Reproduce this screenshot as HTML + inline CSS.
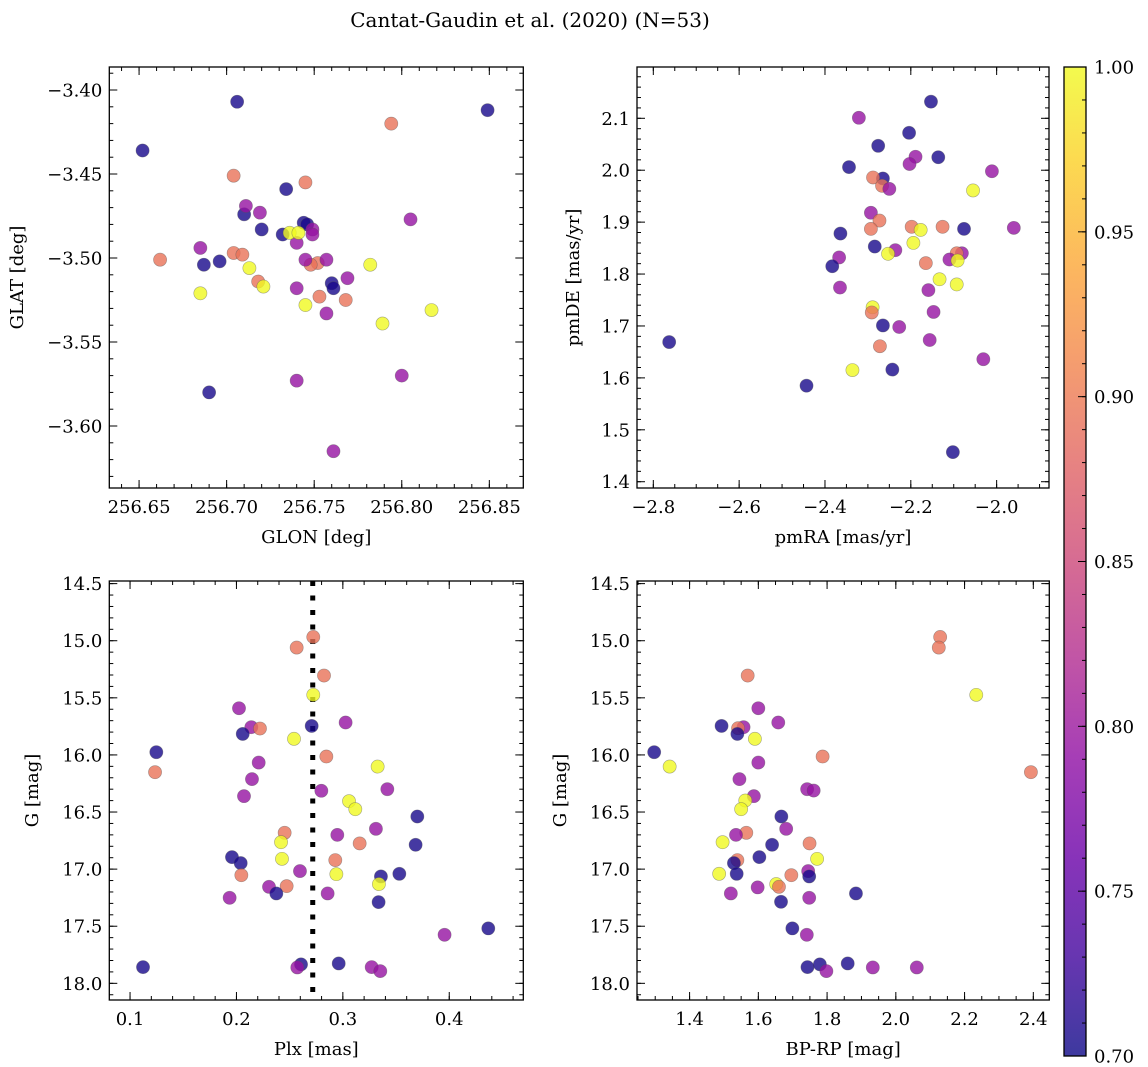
<!DOCTYPE html>
<html>
<head>
<meta charset="utf-8">
<style>
  html,body{margin:0;padding:0;background:#fff;}
  svg{display:block;font-family:"DejaVu Serif","Liberation Serif",serif;}
</style>
</head>
<body>
<svg id="fig" width="1148" height="1067" viewBox="0 0 1148 1067" xmlns="http://www.w3.org/2000/svg">
  <rect width="1148" height="1067" fill="#fff"/>
  <text x="530" y="27" font-size="20" text-anchor="middle">Cantat-Gaudin et al. (2020) (N=53)</text>
</svg>
<script>
// ---- color classes (membership probability) ----
const B = 0.705, P = 0.795, S = 0.893, Y = 1.0;

// ---- Panel 1: GLON vs GLAT ----
const p1Glon = [256.652,256.706,256.849,256.690,256.696,256.687,256.710,256.720,256.734,256.732,256.744,256.746,256.760,256.761,
  256.794,256.704,256.745,256.662,256.704,256.709,256.718,256.752,256.748,256.753,256.768,
  256.711,256.719,256.685,256.740,256.749,256.749,256.745,256.757,256.769,256.740,256.757,256.740,256.805,256.800,256.761,
  256.685,256.713,256.721,256.736,256.741,256.745,256.782,256.789,256.817];
const p1Glat = [-3.436,-3.407,-3.412,-3.580,-3.502,-3.504,-3.474,-3.483,-3.459,-3.486,-3.479,-3.480,-3.515,-3.518,
  -3.420,-3.451,-3.455,-3.501,-3.497,-3.498,-3.514,-3.503,-3.504,-3.523,-3.525,
  -3.469,-3.473,-3.494,-3.491,-3.483,-3.486,-3.501,-3.501,-3.512,-3.518,-3.533,-3.573,-3.477,-3.570,-3.615,
  -3.521,-3.506,-3.517,-3.485,-3.485,-3.528,-3.504,-3.539,-3.531];
const p1Prob = [B,B,B,B,B,B,B,B,B,B,B,B,B,B, S,S,S,S,S,S,S,S,S,S,S, P,P,P,P,P,P,P,P,P,P,P,P,P,P,P, Y,Y,Y,Y,Y,Y,Y,Y,Y];

// ---- Panel 2: pmRA vs pmDE ----
const p2PmRA = [-2.153,-2.321,-2.204,-2.276,-2.189,-2.203,-2.136,-2.344,-2.011,-2.265,-2.288,-2.267,-2.250,-2.055,-2.293,-2.273,-2.293,-2.364,-2.198,-2.177,-2.126,-2.076,-1.960,-2.194,-2.284,-2.236,-2.253,-2.367,-2.081,-2.093,-2.110,-2.091,-2.383,-2.165,-2.133,-2.093,-2.365,-2.159,-2.289,-2.291,-2.147,-2.265,-2.227,-2.156,-2.763,-2.272,-2.031,-2.336,-2.243,-2.443,-2.102];
const p2PmDE = [2.132,2.101,2.072,2.047,2.026,2.012,2.025,2.006,1.998,1.984,1.986,1.970,1.964,1.961,1.918,1.903,1.887,1.878,1.891,1.885,1.891,1.887,1.889,1.860,1.853,1.846,1.839,1.832,1.840,1.840,1.828,1.826,1.815,1.821,1.790,1.780,1.774,1.769,1.736,1.726,1.727,1.701,1.698,1.673,1.669,1.661,1.636,1.615,1.616,1.585,1.457];
const p2Prob = [B,P,B,B,P,P,B,B,P,B,S,S,P,Y,P,S,S,B,S,Y,S,B,P,Y,B,P,Y,P,P,S,P,Y,B,S,Y,Y,P,P,Y,S,P,B,P,P,B,S,P,Y,B,B,B];

// ---- Panel 3: Plx vs G ----
const p3Plx = [0.2722,0.2566,0.2823,0.2722,0.2024,0.3026,0.2707,0.2140,0.2221,0.2059,0.2541,0.1247,0.2845,0.2209,0.3327,0.1235,0.2146,0.2798,0.3418,0.2071,0.3058,0.3117,0.3700,0.3311,0.2453,0.2948,0.2419,0.3158,0.3684,0.2428,0.1958,0.2929,0.2040,0.2597,0.3531,0.2939,0.2046,0.3358,0.3339,0.2306,0.2472,0.2375,0.2857,0.1936,0.3336,0.4367,0.3956,0.1122,0.2607,0.2572,0.2961,0.3271,0.3352];
const p3G = [14.967,15.060,15.305,15.474,15.591,15.716,15.746,15.757,15.769,15.816,15.859,15.976,16.014,16.067,16.102,16.151,16.212,16.314,16.300,16.361,16.405,16.475,16.539,16.647,16.682,16.700,16.764,16.775,16.787,16.910,16.895,16.921,16.947,17.017,17.041,17.044,17.053,17.064,17.131,17.155,17.149,17.213,17.213,17.251,17.289,17.519,17.575,17.858,17.834,17.861,17.826,17.858,17.893];
const p3Prob = [S,S,S,Y,P,P,B,P,S,B,Y,B,S,P,Y,S,P,P,P,P,Y,Y,B,P,S,P,Y,S,B,Y,B,S,B,P,B,Y,S,B,Y,P,S,B,P,P,B,B,P,B,B,P,B,P,P];
const plxMedian = [0.2717];

// ---- Panel 4: BP-RP vs G ----
const p4Color = [2.129,2.125,1.569,2.234,1.600,1.658,1.493,1.557,1.541,1.539,1.590,1.297,1.787,1.600,1.342,2.393,1.545,1.742,1.761,1.587,1.562,1.550,1.667,1.681,1.565,1.535,1.496,1.749,1.640,1.771,1.603,1.539,1.529,1.745,1.537,1.486,1.696,1.748,1.652,1.660,1.598,1.520,1.884,1.748,1.666,1.699,1.741,1.743,1.779,1.798,1.860,1.933,2.061];
const p4G = [14.967,15.060,15.305,15.474,15.591,15.716,15.746,15.757,15.766,15.816,15.859,15.976,16.014,16.067,16.102,16.151,16.212,16.300,16.312,16.361,16.399,16.475,16.539,16.647,16.682,16.700,16.764,16.775,16.787,16.910,16.895,16.921,16.947,17.017,17.041,17.041,17.053,17.064,17.131,17.155,17.160,17.213,17.213,17.251,17.286,17.519,17.575,17.858,17.834,17.893,17.826,17.861,17.861];
const p4Prob = [S,S,S,Y,P,P,B,P,S,B,Y,B,S,P,Y,S,P,P,P,P,Y,Y,B,P,S,P,Y,S,B,Y,B,S,B,P,B,Y,S,B,Y,S,P,P,B,P,B,B,P,B,B,P,B,P,P];

// ---- tick labels ----
const p1XTicks = [256.65,256.70,256.75,256.80,256.85];
const p1YTicks = [-3.40,-3.45,-3.50,-3.55,-3.60];
const p2XTicks = [-2.8,-2.6,-2.4,-2.2,-2.0];
const p2YTicks = [1.4,1.5,1.6,1.7,1.8,1.9,2.0,2.1];
const p3XTicks = [0.1,0.2,0.3,0.4];
const gTicks = [14.5,15.0,15.5,16.0,16.5,17.0,17.5,18.0];
const p4XTicks = [1.4,1.6,1.8,2.0,2.2,2.4];
const cbTicks = [0.70,0.75,0.80,0.85,0.90,0.95,1.00];

const NS = "http://www.w3.org/2000/svg";
const svg = document.getElementById('fig');
const plasma = ["#0d0887","#41049d","#6a00a8","#8f0da4","#b12a90","#cc4778","#e16462","#f2844b","#fca636","#fcce25","#f0f921"];
function hex(h){return [parseInt(h.slice(1,3),16),parseInt(h.slice(3,5),16),parseInt(h.slice(5,7),16)];}
function cmap(v){
  let t=(v-0.7)/0.3; t=Math.max(0,Math.min(1,t));
  const f=t*10, i=Math.min(9,Math.floor(f)), r=f-i;
  const a=hex(plasma[i]), b=hex(plasma[i+1]);
  return "rgb("+a.map((c,k)=>Math.round(c+(b[k]-c)*r)).join(",")+")";
}
function el(tag, attrs, parent){
  const e=document.createElementNS(NS,tag);
  for(const k in attrs) e.setAttribute(k,attrs[k]);
  (parent||svg).appendChild(e);
  return e;
}
const FS = 18;

function panel(cfg){
  const g=el('g',{});
  
  
  const sx=v=>cfg.x0+(v-cfg.xd[0])/(cfg.xd[1]-cfg.xd[0])*(cfg.x1-cfg.x0);
  const sy=v=>cfg.y0+(v-cfg.yd[0])/(cfg.yd[1]-cfg.yd[0])*(cfg.y1-cfg.y0);
  const clip='clip-'+cfg.name;
  const cp=el('clipPath',{id:clip},g);
  el('rect',{x:cfg.x0,y:cfg.y0,width:cfg.x1-cfg.x0,height:cfg.y1-cfg.y0},cp);
  const pts=el('g',{'clip-path':'url(#'+clip+')'},g);
  if(cfg.vline){
    cfg.vline.forEach(v=>{
      const ln=el('line',{x1:sx(v),x2:sx(v),y1:cfg.y0,y2:cfg.y1,stroke:'#000','stroke-width':5,'stroke-dasharray':'5 9.5'},pts);
      
      
    });
  }
  for(let i=0;i<cfg.xs.length;i++){
    const c=el('circle',{cx:sx(cfg.xs[i]),cy:sy(cfg.ys[i]),r:6.6,fill:cmap(cfg.cs[i]),'fill-opacity':0.8,stroke:'#555','stroke-opacity':0.5,'stroke-width':0.6},pts);
    
    
  }
  el('rect',{x:cfg.x0,y:cfg.y0,width:cfg.x1-cfg.x0,height:cfg.y1-cfg.y0,fill:'none',stroke:'#000','stroke-width':1.3},g);
  const tk=el('g',{stroke:'#000','stroke-width':1},g);
  const xlo=Math.min(...cfg.xd), xhi=Math.max(...cfg.xd), ylo=Math.min(...cfg.yd), yhi=Math.max(...cfg.yd);
  for(let k=Math.ceil(xlo/cfg.xm-1e-6);k*cfg.xm<=xhi+1e-9;k++){
    const x=sx(k*cfg.xm);
    el('line',{x1:x,x2:x,y1:cfg.y1,y2:cfg.y1-4},tk); el('line',{x1:x,x2:x,y1:cfg.y0,y2:cfg.y0+4},tk);
  }
  for(let k=Math.ceil(ylo/cfg.ym-1e-6);k*cfg.ym<=yhi+1e-9;k++){
    const y=sy(k*cfg.ym);
    el('line',{x1:cfg.x0,x2:cfg.x0+4,y1:y,y2:y},tk); el('line',{x1:cfg.x1,x2:cfg.x1-4,y1:y,y2:y},tk);
  }
  const xl=el('g',{'font-size':FS,'text-anchor':'middle'},g);
  
  
  cfg.xt.forEach(v=>{
    const x=sx(v);
    el('line',{x1:x,x2:x,y1:cfg.y1,y2:cfg.y1-8},tk); el('line',{x1:x,x2:x,y1:cfg.y0,y2:cfg.y0+8},tk);
    const t=el('text',{x:x,y:cfg.y1+25},xl);
    t.textContent=(v<0?'\u2212':'')+Math.abs(v).toFixed(cfg.xdp);
  });
  const yl=el('g',{'font-size':FS,'text-anchor':'end'},g);
  
  
  cfg.yt.forEach(v=>{
    const y=sy(v);
    el('line',{x1:cfg.x0,x2:cfg.x0+8,y1:y,y2:y},tk); el('line',{x1:cfg.x1,x2:cfg.x1-8,y1:y,y2:y},tk);
    const t=el('text',{x:cfg.x0-7,y:y+6.5},yl);
    t.textContent=(v<0?'\u2212':'')+Math.abs(v).toFixed(cfg.ydp);
  });
  const xlab=el('text',{x:(cfg.x0+cfg.x1)/2,y:cfg.y1+55,'font-size':FS,'text-anchor':'middle'},g);
  xlab.textContent=cfg.xlabel;
  
  
  const ylx=cfg.ylx, yly=(cfg.y0+cfg.y1)/2;
  const ylab=el('text',{x:ylx,y:yly,'font-size':FS,'text-anchor':'middle',transform:'rotate(-90 '+ylx+' '+yly+')'},g);
  ylab.textContent=cfg.ylabel;
  
  
}

panel({name:'glon-glat-panel',x0:109.3,x1:523.3,y0:67,y1:488,xd:[256.633,256.8694],yd:[-3.3863,-3.6369],
  xm:0.01,ym:0.01,xt:p1XTicks,yt:p1YTicks,xdp:2,ydp:2,xs:p1Glon,ys:p1Glat,cs:p1Prob,xlabel:'GLON [deg]',ylabel:'GLAT [deg]',ylx:23});
panel({name:'pm-panel',x0:637,x1:1049,y0:67,y1:488,xd:[-2.838,-1.878],yd:[2.1988,1.3879],
  xm:0.05,ym:0.02,xt:p2XTicks,yt:p2YTicks,xdp:1,ydp:1,xs:p2PmRA,ys:p2PmDE,cs:p2Prob,xlabel:'pmRA [mas/yr]',ylabel:'pmDE [mas/yr]',ylx:579});
panel({name:'plx-g-panel',x0:109.3,x1:523.3,y0:581,y1:1000,xd:[0.0805,0.4696],yd:[14.477,18.146],
  xm:0.02,ym:0.1,xt:p3XTicks,yt:gTicks,xdp:1,ydp:1,xs:p3Plx,ys:p3G,cs:p3Prob,xlabel:'Plx [mas]',ylabel:'G [mag]',ylx:38,vline:plxMedian});
panel({name:'cmd-panel',x0:637,x1:1049.3,y0:581,y1:1000,xd:[1.247,2.4465],yd:[14.477,18.146],
  xm:0.05,ym:0.1,xt:p4XTicks,yt:gTicks,xdp:1,ydp:1,xs:p4Color,ys:p4G,cs:p4Prob,xlabel:'BP-RP [mag]',ylabel:'G [mag]',ylx:566});

// ---- colorbar ----
(function(){
  const cx0=1064, cx1=1086, cy0=67, cy1=1056;
  const g=el('g',{});
  
  
  const defs=el('defs',{},g);
  const lg=el('linearGradient',{id:'cbgrad',x1:0,y1:1,x2:0,y2:0},defs);
  plasma.forEach((c,i)=>el('stop',{offset:(i/10),'stop-color':c},lg));
  el('rect',{x:cx0,y:cy0,width:cx1-cx0,height:cy1-cy0,fill:'url(#cbgrad)','fill-opacity':0.8},g);
  el('rect',{x:cx0,y:cy0,width:cx1-cx0,height:cy1-cy0,fill:'none',stroke:'#000','stroke-width':1.3},g);
  const sy=v=>cy1-(v-0.7)/0.3*(cy1-cy0);
  const tk=el('g',{stroke:'#000','stroke-width':1},g);
  for(let k=70;k<=100;k++){ const y=sy(k/100); el('line',{x1:cx1,x2:cx1-4,y1:y,y2:y},tk); }
  const lab=el('g',{'font-size':FS},g);
  
  
  cbTicks.forEach(v=>{
    const y=sy(v);
    el('line',{x1:cx1,x2:cx1-8,y1:y,y2:y},tk);
    const t=el('text',{x:cx1+8,y:y+6.5},lab);
    t.textContent=v.toFixed(2);
  });
})();
</script>
</body>
</html>
